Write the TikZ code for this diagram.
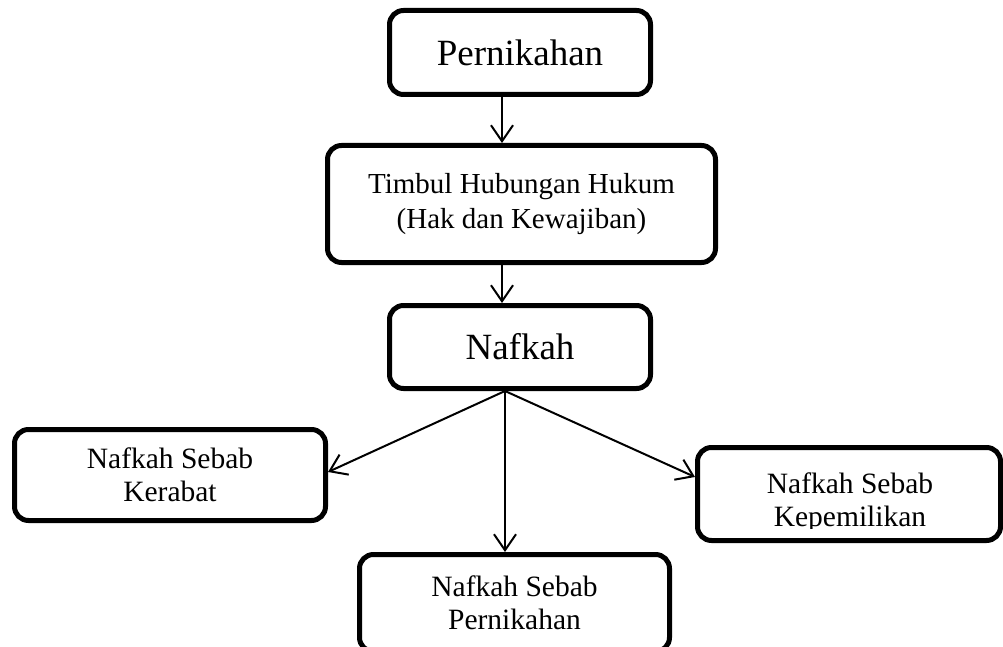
\documentclass[tikz,border=0pt]{standalone}
\usepackage{fontspec}
\setmainfont{Liberation Serif}
\usetikzlibrary{arrows.meta}
\begin{document}
\begin{tikzpicture}[x=1pt,y=-1pt,
  box/.style={draw, line width=5pt, rounded corners=14pt, align=center, inner sep=0pt},
  arr/.style={line width=2pt, -{Straight Barb[length=16pt,width=22pt,line width=2pt]}},
  big/.style={font=\fontsize{37}{42}\selectfont},
  mid/.style={font=\fontsize{29}{35}\selectfont},
  small/.style={font=\fontsize{29.5}{33}\selectfont}]
\useasboundingbox (0,0) rectangle (1003,647);
\node[box, big, minimum width=261pt, minimum height=84pt] (per) at (520,52.5) {Pernikahan};
\node[box, mid, minimum width=388pt, minimum height=117pt] (timbul) at (521.5,204) {Timbul Hubungan Hukum\\(Hak dan Kewajiban)};
\node[box, big, minimum width=261pt, minimum height=83pt] (nafkah) at (520,347) {Nafkah};
\node[box, small, minimum width=311pt, minimum height=91pt] (left) at (170,475) {Nafkah Sebab\\Kerabat};
\node[box, minimum width=303pt, minimum height=93pt] (right) at (849,494) {};
\begin{scope}
  \clip (695,445) rectangle (1003,528.5);
  \node[small, align=center, inner sep=0pt] (righttext) at (850,503) {Nafkah Sebab\\Kepemilikan};
\end{scope}
\node[box, small, minimum width=310pt, minimum height=97pt] (bottom) at (514.5,603) {Nafkah Sebab\\Pernikahan};
\coordinate (c1) at (502,0);
\coordinate (c2) at (505,0);
\coordinate (lt) at (0,472);
\coordinate (rt) at (0,477);
\draw[arr] (per.south -| c1) -- (timbul.north -| c1);
\draw[arr] (timbul.south -| c1) -- (nafkah.north -| c1);
\draw[arr] (nafkah.south -| c2) -- (left.east |- lt);
\draw[arr] (nafkah.south -| c2) -- (bottom.north -| c2);
\draw[arr] (nafkah.south -| c2) -- (right.west |- rt);
\end{tikzpicture}
\end{document}
